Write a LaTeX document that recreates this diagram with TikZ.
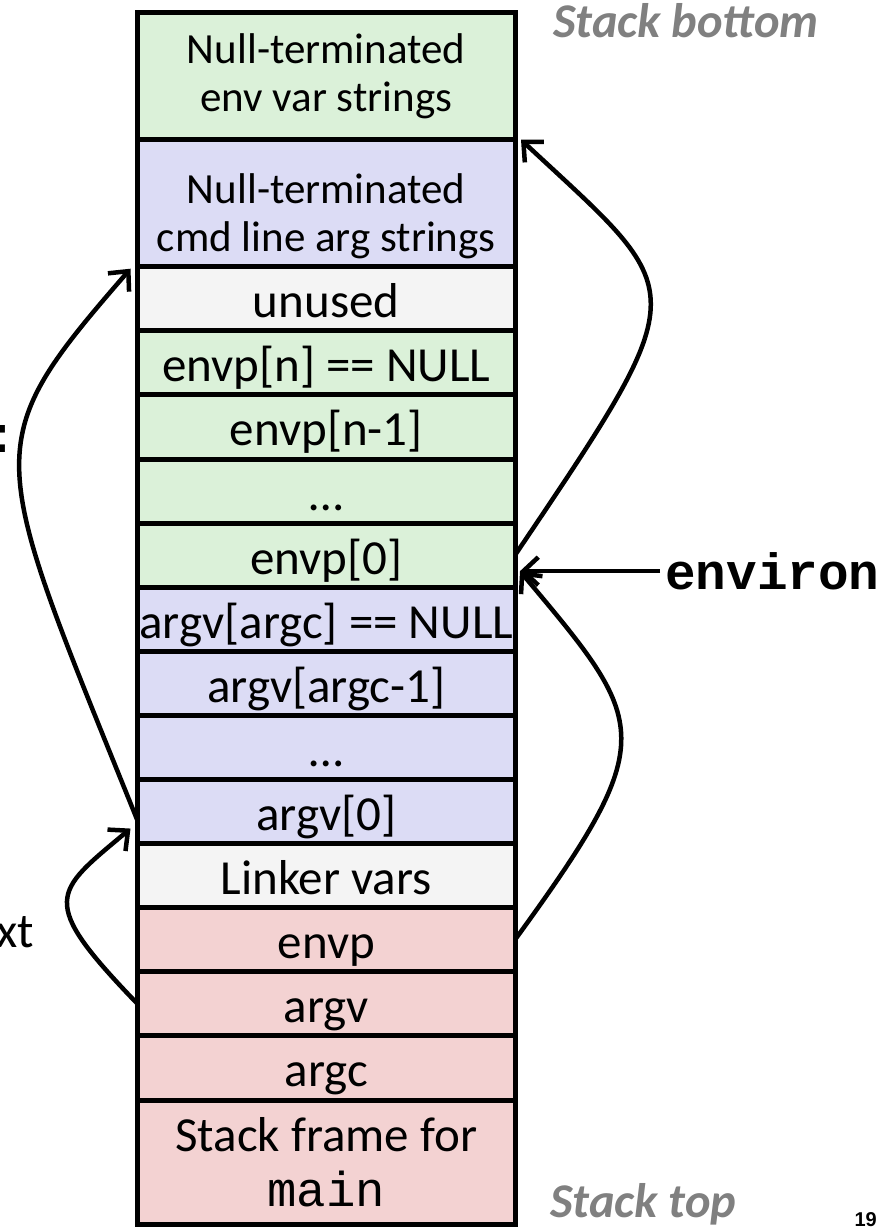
\documentclass[tikz,border=0pt]{standalone}
\usepackage{fontspec}
\setmainfont{Carlito}
\newfontfamily\codefont{Liberation Mono}
\newfontfamily\slidefont{Liberation Sans}
\usepackage{tikz}
\usetikzlibrary{matrix,arrows.meta}
\definecolor{envgreen}{RGB}{219,241,217}
\definecolor{argblue}{RGB}{220,220,245}
\definecolor{spacegray}{RGB}{244,244,244}
\definecolor{framered}{RGB}{243,210,210}
\definecolor{notegray}{RGB}{128,128,128}

\begin{document}
\begin{tikzpicture}[x=1pt,y=1pt,
		box/.style={draw,line width=5pt,outer sep=0pt,inner sep=0pt,minimum width=377.5pt,align=center,font=\fontsize{49}{55}\selectfont},
		cell/.style={box,minimum height=64.1pt,text height=40pt,text depth=2pt},
		tallcell/.style={box,minimum height=127pt,font=\fontsize{43}{48}\selectfont},
		ptr/.style={line width=4.5pt,-{Straight Barb[length=15pt,width=28pt]}},
		note/.style={inner sep=0pt,text=notegray,font=\fontsize{48.5}{55}\selectfont\bfseries\itshape}]
			\useasboundingbox (0,0) rectangle (881,-1228);
			\matrix (stk) [row sep=-5pt, inner sep=0pt, anchor=north] at (326.25,-10)
			{
				\node[tallcell,fill=envgreen] (envstr) {Null-terminated\\env var strings}; \\
				\node[tallcell,fill=argblue] (argstr) {\rule{0pt}{56pt}Null-terminated\\cmd line arg strings}; \\
				\node[cell,fill=spacegray] (unused) {unused}; \\
				\node[cell,fill=envgreen] (envpn) {envp[n] == NULL}; \\
				\node[cell,fill=envgreen] (envpm) {envp[n-1]}; \\
				\node[cell,fill=envgreen] (envpdots) {…}; \\
				\node[cell,fill=envgreen] (envp0) {envp[0]}; \\
				\node[cell,fill=argblue] (argvn) {argv[argc] == NULL}; \\
				\node[cell,fill=argblue] (argvm) {argv[argc-1]}; \\
				\node[cell,fill=argblue] (argvdots) {…}; \\
				\node[cell,fill=argblue] (argv0) {argv[0]}; \\
				\node[cell,fill=spacegray] (linker) {Linker vars}; \\
				\node[cell,fill=framered] (envpvar) {envp}; \\
				\node[cell,fill=framered] (argvvar) {argv}; \\
				\node[cell,fill=framered] (argcvar) {argc}; \\
				\node[box,fill=framered,minimum height=124.7pt] (mainframe) {Stack frame for\\{\codefont main}}; \\
			};
			\coordinate (envtip) at ([shift={(5pt,-16pt)}]envp0.east);
			\node (environ) [anchor=west, inner sep=5pt, font=\codefont\bfseries\fontsize{51}{55}\selectfont] at ([xshift=140pt]envtip) {environ};
			\node (stkbottom) [note, anchor=base west] at (553,-38) {Stack bottom};
			\node (stktop) [note, anchor=base west] at (550,-1217) {Stack top};
			\node (colonpart) [anchor=base east, inner sep=0pt, font=\codefont\bfseries\fontsize{51}{55}\selectfont] at (17,-452) {:};
			\node (xtpart) [anchor=base east, inner sep=0pt, font=\fontsize{49}{55}\selectfont] at (34,-947) {xt};
			\node (pagenum) [anchor=base east, inner sep=0pt, font=\slidefont\bfseries\fontsize{20}{22}\selectfont] at (877,-1226) {19};
			\draw[ptr] (environ) -- (envtip);
			\draw[ptr] (envp0.east) .. controls +(56:330pt) and +(-43:230pt) .. ([xshift=6pt]envstr.south east);
			\draw[ptr] (envpvar.east) .. controls +(54:250pt) and +(-50:200pt) .. (envtip);
			\draw[ptr] ([yshift=-9pt]argv0.west) .. controls +(112:400pt) and +(-131:236pt) .. ([shift={(-7pt,-2pt)}]argstr.south west);
			\draw[ptr] (argvvar.west) .. controls +(134:145pt) and +(-140:100pt) .. ([shift={(-7pt,-17pt)}]argv0.west);
		\end{tikzpicture}
\end{document}
